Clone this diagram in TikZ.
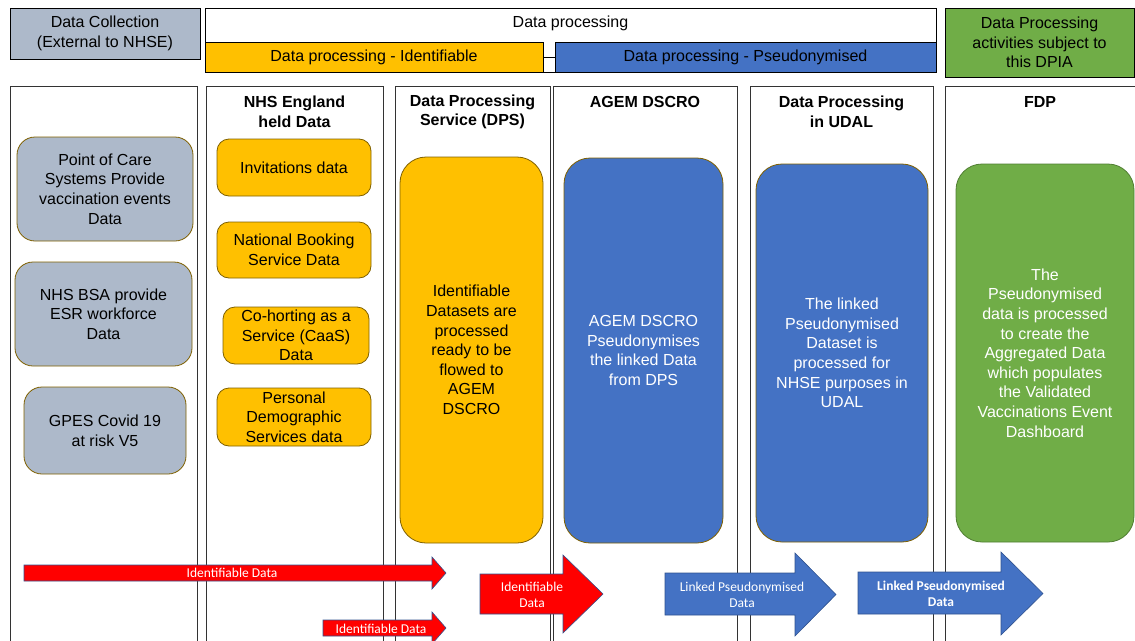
\documentclass[tikz,border=0pt]{standalone}
\usepackage{fontspec}
\setmainfont{Liberation Sans}
\newfontfamily\arrowfont{Carlito}
\usetikzlibrary{positioning}

\definecolor{collgray}{HTML}{ADB9CA}
\definecolor{idyellow}{HTML}{FFC000}
\definecolor{pseudoblue}{HTML}{4472C4}
\definecolor{dpiagreen}{HTML}{70AD47}
\definecolor{boxrim}{HTML}{7F6000}
\definecolor{greenrim}{HTML}{507E32}
\definecolor{arrowrim}{HTML}{2F528F}

\begin{document}
\begin{tikzpicture}[
        x=1pt, y=-1pt,
        every node/.style={font=\fontsize{16}{19.6}\selectfont, align=center, inner sep=0pt},
        header/.style={draw=black, line width=0.8pt, rectangle},
        lane/.style={draw=black!80, line width=1pt, anchor=north west},
        lanetitle/.style={font=\fontsize{16}{19.6}\selectfont\bfseries},
        graybox/.style={draw=boxrim, fill=collgray, line width=0.8pt, rounded corners=18pt},
        yellowbox/.style={draw=boxrim, fill=idyellow, line width=0.8pt, rounded corners=12pt},
        bigyellow/.style={draw=boxrim, fill=idyellow, line width=0.8pt, rounded corners=26pt},
        bigblue/.style={draw=boxrim, fill=pseudoblue, line width=0.8pt, rounded corners=26pt, text=white},
        biggreen/.style={draw=greenrim, fill=dpiagreen, line width=0.8pt, rounded corners=26pt, text=white},
        redarrow/.style={fill=red, draw=arrowrim, line width=0.6pt},
        bluearrow/.style={fill=pseudoblue, draw=arrowrim, line width=0.6pt},
        arrowlabel/.style={font=\arrowfont\fontsize{13.5}{16}\selectfont, text=white}
    ]
        \useasboundingbox (0,0) rectangle (1135,640);

        % header row
        \node[header, fill=collgray, minimum width=190pt, minimum height=51pt] (collect) at (105,33.5) {Data Collection\\(External to NHSE)};
        \node[header, fill=white, minimum width=731pt, minimum height=64pt] (procall) at (570.5,40) {};
        \node (proctitle) at (570.5,23) {Data processing};
        \node[header, fill=idyellow, minimum width=338pt, minimum height=30pt] (procid) at (374,57) {Data processing - Identifiable};
        \node[header, fill=pseudoblue, minimum width=381pt, minimum height=30pt] (procpseudo) at (745.5,57) {Data processing - Pseudonymised};
        \draw[black, line width=0.8pt] (procid) -- (procpseudo);
        \node[header, fill=dpiagreen, minimum width=189pt, minimum height=69pt] (dpia) at (1039.5,42.5) {Data Processing\\activities subject to\\this DPIA};

        % lanes
        \node[lane, minimum width=187pt, minimum height=580pt] (lane1) at (10,86) {};
        \node[lane, minimum width=177pt, minimum height=580pt] (lane2) at (206,86) {};
        \node[lane, minimum width=155pt, minimum height=580pt] (lane3) at (395,86) {};
        \node[lane, minimum width=184pt, minimum height=580pt] (lane4) at (553,86) {};
        \node[lane, minimum width=183pt, minimum height=580pt] (lane5) at (750,86) {};
        \node[lane, minimum width=200pt, minimum height=580pt] (lane6) at (945,86) {};

        \node[lanetitle] (title2) at (294.5,112) {NHS England\\held Data};
        \node[lanetitle] (title3) at (472.5,112) {Data Processing\\Service (DPS)};
        \node[lanetitle] (title4) at (645,101.5) {AGEM DSCRO};
        \node[lanetitle] (title5) at (841.5,112) {Data Processing\\in UDAL};
        \node[lanetitle] (title6) at (1040,101.5) {FDP};

        % data collection
        \node[graybox, minimum width=176pt, minimum height=104pt] (poc) at (105,189) {Point of Care\\Systems Provide\\vaccination events\\Data};
        \node[graybox, minimum width=177pt, minimum height=104pt] (nhsbsa) at (103.5,314) {NHS BSA provide\\ESR workforce\\Data};
        \node[graybox, minimum width=162pt, minimum height=87pt] (gpes) at (105,430.5) {GPES Covid 19\\at risk V5};

        % NHS England held data
        \node[yellowbox, minimum width=154pt, minimum height=57pt] (invite) at (294,167.5) {Invitations data};
        \node[yellowbox, minimum width=154pt, minimum height=56pt] (booking) at (294,250) {National Booking\\Service Data};
        \node[yellowbox, minimum width=146pt, minimum height=57pt] (caas) at (296,335.5) {Co-horting as a\\Service (CaaS)\\Data};
        \node[yellowbox, minimum width=154pt, minimum height=58pt] (pds) at (294,417) {Personal\\Demographic\\Services data};

        % processing stages
        \node[bigyellow, minimum width=143pt, minimum height=386pt] (dps) at (471.5,350) {Identifiable\\Datasets are\\processed\\ready to be\\flowed to\\AGEM\\DSCRO};
        \node[bigblue, minimum width=159pt, minimum height=385pt] (dscro) at (643.5,350.5) {AGEM DSCRO\\Pseudonymises\\the linked Data\\from DPS};
        \node[bigblue, minimum width=172pt, minimum height=378pt] (udal) at (842,353) {The linked\\Pseudonymised\\Dataset is\\processed for\\NHSE purposes in\\UDAL};
        \node[biggreen, minimum width=178pt, minimum height=378pt] (fdp) at (1045,353) {The\\Pseudonymised\\data is processed\\to create the\\Aggregated Data\\which populates\\the Validated\\Vaccinations Event\\Dashboard};

        % flow arrows
        \draw[redarrow] (24,565) -- (432,565) -- (432,557) -- (446,573) -- (432,589) -- (432,581) -- (24,581) -- cycle;
        \node[arrowlabel] (idlong) at (232,573) {Identifiable Data};
        \draw[redarrow] (323,620) -- (432,620) -- (432,612) -- (446,628) -- (432,644) -- (432,636) -- (323,636) -- cycle;
        \node[arrowlabel] (idshort) at (381,628.5) {Identifiable Data};
        \draw[redarrow] (480,574) -- (563,574) -- (563,555) -- (603,594) -- (563,633) -- (563,614) -- (480,614) -- cycle;
        \node[arrowlabel] (idbig) at (532,595) {Identifiable\\Data};
        \draw[bluearrow] (665,573) -- (795,573) -- (795,553) -- (836,594.5) -- (795,636) -- (795,615) -- (665,615) -- cycle;
        \node[arrowlabel] (linked) at (742,595) {Linked Pseudonymised\\Data};
        \draw[bluearrow] (858,572) -- (1001,572) -- (1001,552) -- (1043,593.5) -- (1001,635) -- (1001,614) -- (858,614) -- cycle;
        \node[arrowlabel, font=\arrowfont\fontsize{13.5}{16}\selectfont\bfseries] (linkedfdp) at (941,594) {Linked Pseudonymised\\Data};
    \end{tikzpicture}
\end{document}
